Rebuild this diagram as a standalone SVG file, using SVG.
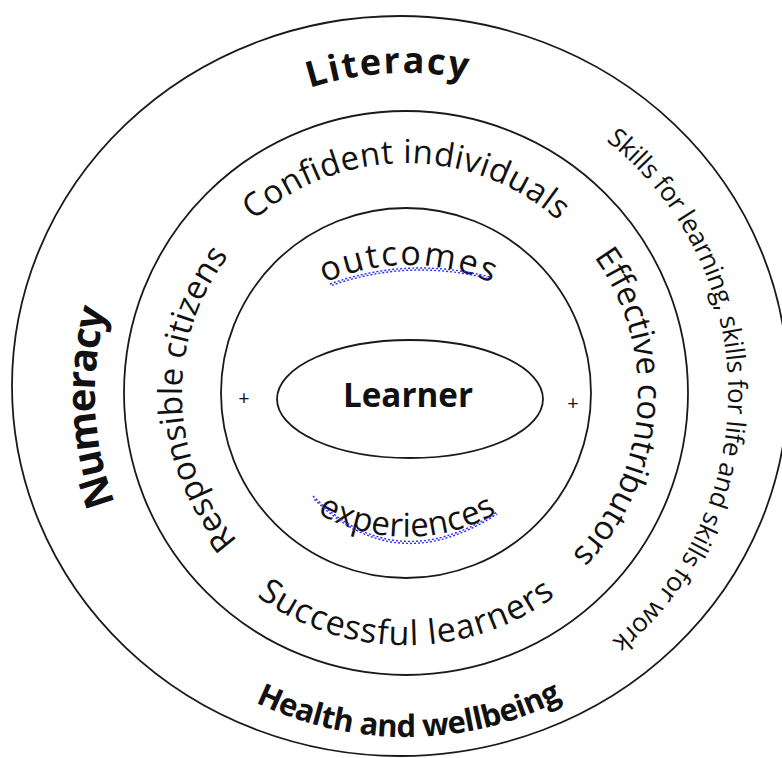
<svg xmlns="http://www.w3.org/2000/svg" width="782" height="758" viewBox="0 0 782 758">
<style>
.ring{fill:none;stroke:#1a1a1a;stroke-width:1.8}
.t{font-family:"Open Sans","DejaVu Sans",sans-serif;fill:#111}
.b{font-weight:700}
.sq{fill:none;stroke:#2a2aff;stroke-width:1.4;stroke-dasharray:2 2}
</style>
<defs>
<path id="p-lit" d="M120.1,249.2 A320,320 0 0 1 673.5,217.3"/>
<path id="p-num" d="M262.9,669.1 A311,311 0 0 1 238.4,131.0"/>
<path id="p-health" d="M83.8,513.5 A344,344 0 0 0 730.3,507.8"/>
<path id="p-skills" d="M485.8,81.0 A322,322 0 0 1 492.9,703.1"/>
<path id="p-conf" d="M179.5,353.1 A230,230 0 0 1 632.5,353.1"/>
<path id="p-resp" d="M336.0,605.8 A224,224 0 0 1 322.8,185.0"/>
<path id="p-eff" d="M501.1,181.4 A232,232 0 0 1 469.2,616.2"/>
<path id="p-succ" d="M157.8,436.8 A252,252 0 0 0 654.2,436.8"/>
<path id="p-out" d="M218.2,397.9 A202,202 0 0 1 597.8,397.9"/>
<path id="p-exp" d="M236,417.2 A182,182 0 0 0 578,417.2"/>
</defs>
<rect width="782" height="758" fill="#ffffff"/>

<g id="outer-ring">
<ellipse class="ring" cx="400" cy="386" rx="388" ry="370"/>
<text class="t b" font-size="36"><textPath href="#p-lit" startOffset="50%" text-anchor="middle" textLength="159" lengthAdjust="spacing">Literacy</textPath></text>
<text class="t b" font-size="40"><textPath href="#p-num" startOffset="50%" text-anchor="middle" textLength="197" lengthAdjust="spacing">Numeracy</textPath></text>
<text class="t b" font-size="31"><textPath href="#p-health" startOffset="50%" text-anchor="middle" textLength="318" lengthAdjust="spacing">Health and wellbeing</textPath></text>
<text class="t" font-size="26"><textPath href="#p-skills" startOffset="50%" text-anchor="middle" textLength="573" lengthAdjust="spacing">Skills for learning, skills for life and skills for work</textPath></text>
</g>

<g id="middle-ring">
<circle class="ring" cx="406" cy="393" r="282"/>
<text class="t" font-size="33"><textPath href="#p-conf" startOffset="50%" text-anchor="middle" textLength="333" lengthAdjust="spacing">Confident individuals</textPath></text>
<text class="t" font-size="33"><textPath href="#p-resp" startOffset="50%" text-anchor="middle" textLength="309" lengthAdjust="spacing">Responsible citizens</textPath></text>
<text class="t" font-size="33"><textPath href="#p-eff" startOffset="50%" text-anchor="middle" textLength="325" lengthAdjust="spacing">Effective contributors</textPath></text>
<text class="t" font-size="34"><textPath href="#p-succ" startOffset="50%" text-anchor="middle" textLength="320" lengthAdjust="spacing">Successful learners</textPath></text>
</g>

<g id="inner-ring">
<circle class="ring" cx="406" cy="393" r="185"/>
<text class="t" font-size="34"><textPath href="#p-out" startOffset="50%" text-anchor="middle" textLength="172" lengthAdjust="spacing">outcomes</textPath></text>
<text class="t" font-size="33"><textPath href="#p-exp" startOffset="50%" text-anchor="middle" textLength="188" lengthAdjust="spacing">experiences</textPath></text>
<path class="sq" transform="translate(0,-1)" d="M330,285 Q408,257 490,278"/>
<path class="sq" transform="translate(0,1)" stroke-dashoffset="2" d="M330,285 Q408,257 490,278"/>
<path class="sq" transform="translate(0,-1)" d="M313,497 Q395,579 497,513"/>
<path class="sq" transform="translate(0,1)" stroke-dashoffset="2" d="M313,497 Q395,579 497,513"/>
<text class="t" font-size="20" x="244" y="405" text-anchor="middle">+</text>
<text class="t" font-size="20" x="573" y="410" text-anchor="middle">+</text>
</g>

<g id="learner">
<ellipse class="ring" cx="410" cy="399" rx="133" ry="59"/>
<text class="t b" font-size="34" x="408" y="407" text-anchor="middle" textLength="130" lengthAdjust="spacingAndGlyphs">Learner</text>
</g>
</svg>
